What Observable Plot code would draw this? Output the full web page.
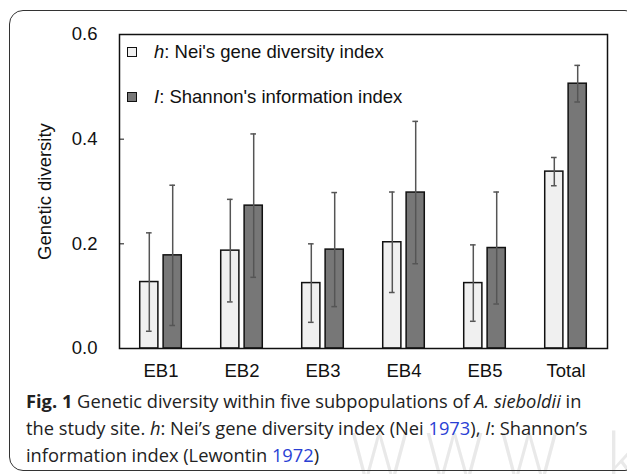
<!DOCTYPE html>
<html>
<head>
<meta charset="utf-8">
<script src="https://cdn.jsdelivr.net/npm/d3@7"></script>
<script src="https://cdn.jsdelivr.net/npm/@observablehq/plot@0.6"></script>
<style>
  html, body { margin: 0; padding: 0; background: #fff; }
  #wrap { position: relative; width: 627px; height: 474px; overflow: hidden; font-family: "Liberation Sans", Arial, sans-serif; }
  #border { position: absolute; left: 9px; top: 10px; width: 630px; height: 461px; border: 1.5px solid #333; border-radius: 14px; box-sizing: border-box; }
  #watermark { position: absolute; left: 350px; top: 422px; font-family: "Open Sans", sans-serif; font-weight: 300; font-size: 66px; line-height: 66px; color: #e9e9e9; letter-spacing: 16px; white-space: nowrap; }
  #chart { position: absolute; left: 0; top: 0; }
  #chart svg g[aria-label="y-axis label"] text { font-size: 18.5px; }
  #legend { position: absolute; left: 127px; top: 40px; font-size: 18.5px; color: #111; }
  #legend .row { position: absolute; left: 0; white-space: nowrap; display: flex; align-items: center; height: 24px; }
  #legend .sw { width: 10px; height: 10px; border: 1.5px solid #111; box-sizing: border-box; margin-right: 17px; }
  #caption { position: absolute; left: 26px; top: 387px; font-family: "Open Sans", sans-serif; font-size: 18.3px; line-height: 27px; color: #222; white-space: nowrap; }
  #caption .ref { color: #2a3fd4; }
</style>
</head>
<body>
<div id="wrap">
  <div id="watermark">WWW.k</div>
  <div id="border"></div>
  <div id="chart"></div>
  <div id="legend"></div>
  <div id="caption">
    <b>Fig. 1</b> Genetic diversity within five subpopulations of <i>A. sieboldii</i> in<br>
    the study site. <i>h</i>: Nei’s gene diversity index (Nei <span class="ref">1973</span>), <i>I</i>: Shannon’s<br>
    information index (Lewontin <span class="ref">1972</span>)
  </div>
</div>
<script>
const groups = ["EB1", "EB2", "EB3", "EB4", "EB5", "Total"];
const hValues = [0.127, 0.187, 0.125, 0.203, 0.125, 0.338];
const hErrors = [0.094, 0.098, 0.075, 0.096, 0.073, 0.027];
const iValues = [0.178, 0.273, 0.189, 0.298, 0.192, 0.506];
const iErrors = [0.134, 0.137, 0.109, 0.136, 0.107, 0.035];
const yTicks = [0.0, 0.2, 0.4, 0.6];
const seriesNames = ["h", "I"];
const seriesLabels = ["<i>h</i>: Nei's gene diversity index", "<i>I</i>: Shannon's information index"];
const seriesFill = ["#f0f0f0", "#777777"];

const hData = groups.map((g, i) => ({group: g, value: hValues[i], lo: hValues[i] - hErrors[i], hi: hValues[i] + hErrors[i]}));
const iData = groups.map((g, i) => ({group: g, value: iValues[i], lo: iValues[i] - iErrors[i], hi: iValues[i] + iErrors[i]}));

const W = 627, H = 390;
const mL = 119, mR = 20;
const step = (W - mL - mR) / groups.length;
const barW = 18.5, offset = 11.7, capW = 6;
const barInset = (step - barW) / 2;
const capInset = (step - capW) / 2;
const errColor = "#555";

function seriesMarks(data, dx, fill) {
  return [
    Plot.barY(data, {x: "group", y: "value", dx, insetLeft: barInset, insetRight: barInset, fill, stroke: "#111", strokeWidth: 1.5}),
    Plot.ruleX(data, {x: "group", y1: "lo", y2: "hi", dx, stroke: errColor, strokeWidth: 1.5}),
    Plot.tickY(data, {x: "group", y: "hi", dx, insetLeft: capInset, insetRight: capInset, stroke: errColor, strokeWidth: 1.5}),
    Plot.tickY(data, {x: "group", y: "lo", dx, insetLeft: capInset, insetRight: capInset, stroke: errColor, strokeWidth: 1.5})
  ];
}

const chart = Plot.plot({
  width: W,
  height: H,
  marginLeft: mL,
  marginRight: mR,
  marginTop: 34,
  marginBottom: 42,
  style: {fontFamily: "'Liberation Sans', Arial, sans-serif", fontSize: "18.5px", color: "#111", background: "transparent"},
  x: {domain: groups, padding: 0, tickSize: 0, tickPadding: 15, label: null},
  y: {domain: [0, 0.6], ticks: yTicks, tickFormat: d3.format(".1f"), tickSize: -5, tickPadding: 27, label: "Genetic diversity", labelArrow: "none", labelAnchor: "center", labelOffset: 82},
  marks: [
    ...seriesMarks(hData, -offset, seriesFill[0]),
    ...seriesMarks(iData, offset, seriesFill[1]),
    Plot.frame({stroke: "#111", strokeWidth: 1.5})
  ]
});
document.getElementById("chart").appendChild(chart);

const legend = document.getElementById("legend");
seriesNames.forEach((s, i) => {
  const row = document.createElement("div");
  row.className = "row";
  row.style.top = (i * 45) + "px";
  row.innerHTML = `<span class="sw" style="background:${seriesFill[i]}"></span><span>${seriesLabels[i]}</span>`;
  legend.appendChild(row);
});
</script>
</body>
</html>
